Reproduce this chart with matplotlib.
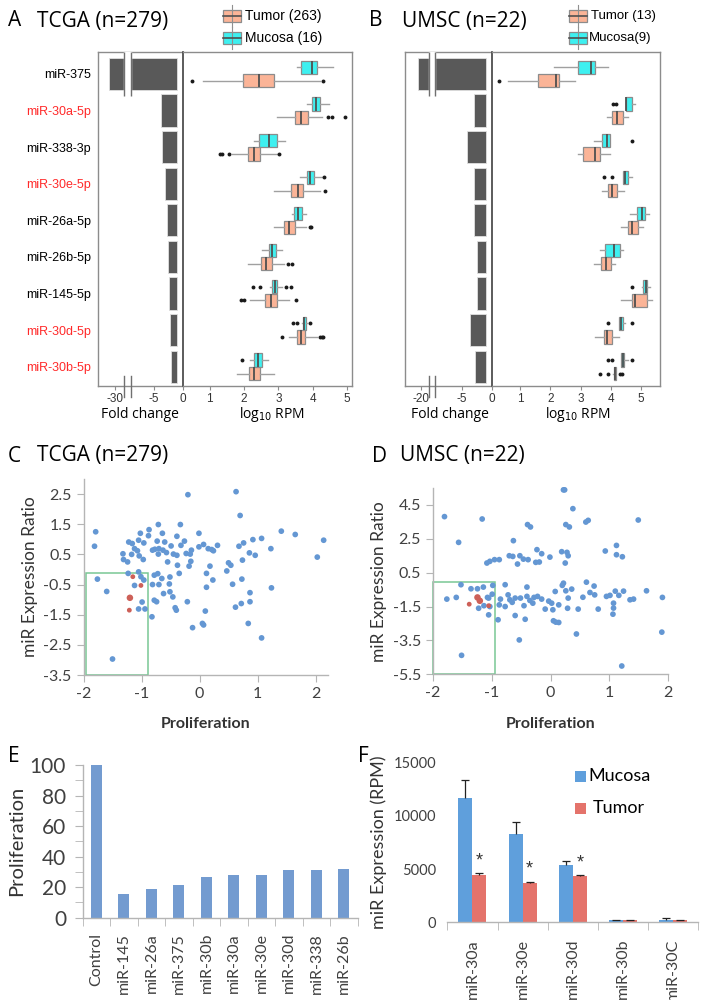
import numpy as np
import matplotlib
matplotlib.use("Agg")
import matplotlib.pyplot as plt
import matplotlib.transforms as mtransforms
from matplotlib.patches import Rectangle
from matplotlib.ticker import FixedLocator, NullLocator, MultipleLocator

plt.rcParams['font.family'] = ['Liberation Sans', 'DejaVu Sans']
plt.rcParams['axes.unicode_minus'] = False

# ---------------- data: panels A / B ----------------
mirs = ['miR-375', 'miR-30a-5p', 'miR-338-3p', 'miR-30e-5p', 'miR-26a-5p',
        'miR-26b-5p', 'miR-145-5p', 'miR-30d-5p', 'miR-30b-5p']
mir_label_colors = ['black', '#ff2a2a', 'black', '#ff2a2a', 'black',
                    'black', 'black', '#ff2a2a', '#ff2a2a']
fold_tcga = [-31.0, -3.8, -3.7, -3.1, -2.8, -2.6, -2.4, -2.25, -2.1]
fold_umsc = [-20.5, -2.95, -4.1, -2.95, -3.0, -2.4, -2.4, -3.7, -2.8]

# (whisker low, q1, median, q3, whisker high, outliers) in log10 RPM
tcga_mucosa = [
    (3.54, 3.66, 3.97, 4.12, 4.58, []),
    (3.84, 3.99, 4.09, 4.20, 4.48, []),
    (2.29, 2.45, 2.74, 2.95, 3.19, []),
    (3.63, 3.83, 3.92, 4.03, 4.26, [4.34]),
    (3.41, 3.46, 3.56, 3.69, 3.80, []),
    (2.53, 2.73, 2.83, 2.92, 3.10, []),
    (2.76, 2.83, 2.90, 2.97, 3.10, [2.27, 2.47, 3.22, 3.36]),
    (3.68, 3.71, 3.75, 3.80, 3.84, [3.42, 3.53, 3.92]),
    (2.18, 2.30, 2.42, 2.53, 2.69, [1.94]),
]
tcga_tumor = [
    (0.80, 1.98, 2.45, 2.88, 4.20, [0.48, 4.29]),
    (2.95, 3.47, 3.66, 3.87, 4.28, [4.45, 4.55, 4.94]),
    (1.65, 2.12, 2.29, 2.46, 2.98, [1.31, 1.35, 1.58, 3.02]),
    (2.88, 3.37, 3.56, 3.73, 4.21, [4.36]),
    (2.88, 3.17, 3.32, 3.47, 3.80, [3.92, 3.96]),
    (2.12, 2.50, 2.64, 2.81, 3.17, [3.27, 3.39]),
    (2.18, 2.60, 2.79, 2.95, 3.32, [1.92, 2.00, 3.51]),
    (3.30, 3.53, 3.66, 3.78, 4.13, [3.10, 4.21, 4.26, 4.30]),
    (1.79, 2.15, 2.29, 2.47, 2.88, []),
]
umsc_mucosa = [
    (2.12, 2.90, 3.34, 3.48, 3.89, []),
    (4.49, 4.49, 4.51, 4.71, 4.80, [4.08, 4.16]),
    (3.45, 3.70, 3.86, 3.97, 3.97, [4.71]),
    (4.39, 4.39, 4.45, 4.57, 4.71, [3.78, 4.03]),
    (4.63, 4.87, 5.02, 5.13, 5.27, []),
    (3.64, 3.81, 4.11, 4.30, 4.41, []),
    (5.04, 5.07, 5.15, 5.20, 5.29, [4.69]),
    (4.27, 4.27, 4.33, 4.39, 4.45, [3.91, 4.69]),
    (4.32, 4.32, 4.39, 4.44, 4.55, [3.91, 4.03, 4.71]),
]
umsc_tumor = [
    (0.59, 1.58, 2.19, 2.29, 2.82, [0.31]),
    (3.86, 4.03, 4.19, 4.41, 4.55, []),
    (2.92, 3.09, 3.48, 3.64, 3.97, []),
    (3.70, 3.89, 4.03, 4.21, 4.44, []),
    (4.32, 4.57, 4.69, 4.88, 5.07, []),
    (3.45, 3.67, 3.83, 3.99, 4.14, []),
    (4.32, 4.69, 4.80, 5.20, 5.37, []),
    (3.48, 3.77, 3.88, 4.03, 4.27, []),
    (4.08, 4.10, 4.13, 4.16, 4.17, [3.64, 3.91, 4.30, 4.35]),
]

# ---------------- data: panel C (TCGA scatter) ----------------
c_x = [-1.79, -1.81, -1.76, -1.60, -0.20, 0.63, 0.70, -0.71, -0.33, -0.87,
       -1.02, -0.64, -0.88, -0.01, -0.39, -1.22, -1.16, -1.05, -0.96, -0.73,
       -0.60, -0.26, -0.32, -0.49, -0.01, 0.07, 0.15, 0.21, 0.31, 0.24,
       -1.12, -1.07, -1.32, -1.17, -0.81, -0.77, -0.70, -0.63, -0.71, -0.57,
       -0.45, -0.39, -0.23, -0.14, -0.16, -1.04, -1.31, -1.24, -0.97, -0.55,
       -0.15, -0.18, -0.35, 0.18, 0.12, 0.47, 0.50, 0.54, 0.74, 0.73,
       0.57, 0.23, 0.12, 0.76, 0.68, 0.92, 1.07, 0.86, 0.96, 1.23,
       1.41, 1.65, 2.14, 2.03, 1.24, 0.87, 0.87, 0.72, 0.62, 0.84,
       -0.21, 0.10, 0.05, -0.12, -0.78, -0.72, -0.65, -0.51, -0.81, -0.70,
       -0.52, -0.62, -0.46, -0.78, -0.74, -0.42, -0.40, -0.99, -1.05, -0.94,
       -1.23, -1.05, -1.01, -0.96, -1.12, -0.82, -0.38, -1.50, 1.07, -0.51,
       0.07]
c_y = [1.25, 0.77, -0.32, -0.73, 2.48, 2.58, 1.79, 1.49, 1.49, 1.32,
       1.20, 1.20, 1.12, 1.20, 1.10, 0.91, 0.86, 0.97, 0.88, 0.94,
       0.91, 0.94, 0.80, 0.78, 0.75, 0.83, 0.69, 0.66, 0.80, 0.62,
       0.69, 0.62, 0.52, 0.50, 0.64, 0.67, 0.69, 0.64, 0.51, 0.56,
       0.51, 0.47, 0.53, 0.64, 0.51, 0.45, 0.33, 0.25, 0.33, 0.25,
       0.27, 0.11, -0.13, 0.11, -0.13, -0.05, 0.22, 0.14, 0.31, -0.32,
       -0.49, -0.35, -0.59, 0.88, 0.77, 0.99, 1.03, 0.55, 0.47, 0.69,
       1.27, 1.16, 0.97, 0.41, -0.61, -0.77, -1.07, -1.13, -1.25, -1.79,
       -1.07, -1.38, -1.79, -1.93, -0.19, -0.14, -0.30, -0.25, -0.50, -0.50,
       -0.48, -0.80, -0.91, -1.02, -1.07, -1.27, -1.35, -1.08, -1.31, -1.31,
       -0.13, -0.08, -0.24, -0.35, -0.53, -1.57, 0.14, -2.97, -2.27, -0.74,
       -1.84]
c_red_x = [-1.15, -1.01, -1.20, -1.21]
c_red_y = [-0.24, -0.53, -0.94, -1.35]

# ---------------- data: panel D (UMSC scatter) ----------------
d_x = [-1.80, -1.16, -1.56, 0.22, 0.24, 0.38, 0.26, 0.32, -0.39, -0.34,
       0.60, 0.64, 1.49, -0.63, 1.12, 0.93, 1.12, 1.22, -0.23, -0.15,
       0.19, 0.28, 0.30, -0.01, -0.70, -0.64, -0.52, -0.46, -0.38, -0.56,
       -1.08, -1.03, -0.95, -0.87, -0.25, -0.19, 0.25, -1.52, -1.35, -1.24,
       -1.14, -0.98, -0.77, -0.40, 0.22, 0.20, 0.36, 0.61, 0.74, 0.08,
       0.26, 0.67, 0.75, 1.10, 1.24, 1.63, 1.90, -1.76, -1.60, -1.07,
       -0.99, -0.85, -0.72, -0.69, -0.60, -0.51, -0.40, -0.35, -0.28, -0.22,
       -0.15, -0.03, 0.02, 0.14, 0.30, 0.47, 0.81, 0.95, 1.01, 1.16,
       1.07, 1.07, 1.06, 1.35, 1.41, -1.05, -0.89, -0.60, -0.43, -0.09,
       0.04, 0.05, 0.09, 0.14, -0.77, -0.87, -1.03, -1.22, -1.13, -1.51,
       1.21, 0.44, 1.89, -0.53, 0.29, -0.45, -1.05, -0.65, -0.30, 0.55]
d_y = [3.81, 3.67, 2.29, 5.39, 5.39, 4.28, 3.34, 3.20, 3.34, 3.20,
       3.49, 3.59, 3.61, 2.39, 2.11, 1.78, 1.56, 1.44, 1.86, 1.62,
       1.74, 1.70, 1.50, 1.42, 1.50, 1.46, 1.50, 1.30, 1.27, 1.01,
       1.07, 1.17, 1.27, 1.27, 1.11, 1.13, 1.07, -0.21, -0.45, -0.45,
       -0.35, -0.25, -0.21, -0.35, -0.12, -0.25, -0.47, -0.06, -0.29, -0.61,
       -0.57, -0.67, -0.81, -0.59, -0.59, -0.57, -0.96, -1.06, -0.96, -0.96,
       -0.77, -1.06, -0.81, -1.10, -1.00, -1.00, -0.90, -1.14, -0.96, -0.90,
       -1.06, -1.18, -1.30, -1.40, -1.00, -1.65, -1.65, -0.90, -0.84, -0.84,
       -1.30, -1.59, -1.95, -1.10, -1.06, -1.99, -2.28, -2.03, -2.25, -1.65,
       -1.69, -2.34, -2.42, -2.44, -1.50, -1.40, -1.50, -1.60, -1.45, -4.38,
       -5.01, -3.12, -3.01, -3.47, -1.60, -1.45, -1.00, -1.25, -1.30, -0.95]
d_red_x = [-1.24, -1.20, -1.38, -1.05]
d_red_y = [-0.96, -1.16, -1.36, -1.45]

# ---------------- data: panel E ----------------
e_labels = ['Control', 'miR-145', 'miR-26a', 'miR-375', 'miR-30b', 'miR-30a',
            'miR-30e', 'miR-30d', 'miR-338', 'miR-26b']
e_values = [100, 15.5, 18.6, 21.4, 26.6, 27.7, 27.7, 31.4, 31.0, 31.9]

# ---------------- data: panel F ----------------
f_labels = ['miR-30a', 'miR-30e', 'miR-30d', 'miR-30b', 'miR-30C']
f_mucosa = [11650, 8300, 5390, 220, 250]
f_mucosa_err = [1720, 1160, 400, 40, 120]
f_tumor = [4450, 3670, 4350, 200, 210]
f_tumor_err = [160, 150, 70, 30, 40]
f_signif = [True, True, True, False, False]

# ---------------- figure ----------------
W, H = 707, 1000
fig = plt.figure(figsize=(W / 100, H / 100), dpi=100)
pix = mtransforms.Affine2D().scale(1 / W, -1 / H).translate(0, 1) + fig.transFigure


def frect(x0, y0, x1, y1):
    return [x0 / W, 1 - y1 / H, (x1 - x0) / W, (y1 - y0) / H]


def ptext(x, y, s, **kw):
    kw.setdefault('va', 'center')
    fig.text(x, y, s, transform=pix, **kw)


def make_break_scale(a, b, tb):
    shift = tb - b

    def fwd(v):
        v = np.asarray(v, float)
        mid = a + (v - a) * (tb - a) / (b - a)
        return np.where(v >= a, v, np.where(v >= b, mid, v + shift))

    def inv(t):
        t = np.asarray(t, float)
        mid = a + (t - a) * (b - a) / (tb - a)
        return np.where(t >= a, t, np.where(t >= tb, mid, t - shift))
    return fwd, inv


TUMOR_C = '#fbb497'
MUCOSA_C = '#3ef0f0'
FRAME_C = '#8c8c8c'


def box_panel(x0, xdiv, x1, y0, y1, fold, brk, fc_xlim, fc_ticks, rpm_xlim,
              mucosa, tumor, show_labels):
    a, b, tb = brk
    fwd, inv = make_break_scale(a, b, tb)
    axf = fig.add_axes(frect(x0, y0, xdiv, y1))
    axr = fig.add_axes(frect(xdiv, y0, x1, y1))
    n = len(mirs)
    rows = np.arange(n)
    ylim = (n - 1 + 0.53, -0.6)

    axf.set_xscale('function', functions=(fwd, inv))
    axf.barh(rows, np.array(fold) + 1, left=-1, height=0.88, color='#595959',
             edgecolor='#e0e0e0', linewidth=0.6, zorder=2)
    axf.fill_betweenx([-0.6, 0.59], b, a, color='white', zorder=3)
    axf.vlines([b, a], -0.6, 0.59, color='#707070', lw=1, zorder=4)
    tr = mtransforms.blended_transform_factory(axf.transData, axf.transAxes)
    for xv in (b, a):
        axf.plot([xv, xv], [0.03, -0.033], transform=tr, color='#707070',
                 lw=1, clip_on=False, zorder=5)
    axf.set_xlim(*fc_xlim)
    axf.set_ylim(*ylim)
    axf.xaxis.set_major_locator(FixedLocator(fc_ticks))
    axf.xaxis.set_minor_locator(NullLocator())
    axf.set_xticklabels([str(t) for t in fc_ticks])
    axf.set_yticks(rows)
    if show_labels:
        axf.set_yticklabels(mirs, fontsize=9)
        for lbl, col in zip(axf.get_yticklabels(), mir_label_colors):
            lbl.set_color(col)
    else:
        axf.set_yticklabels([])
    axf.tick_params(axis='y', length=0, pad=5)
    axf.spines['right'].set_visible(False)

    def stats(lst):
        return [dict(whislo=s[0], q1=s[1], med=s[2], q3=s[3], whishi=s[4],
                     fliers=s[5]) for s in lst]
    for data, off, col in ((mucosa, -0.18, MUCOSA_C), (tumor, 0.19, TUMOR_C)):
        axr.bxp(stats(data), positions=rows + off, widths=0.36,
                orientation='horizontal', patch_artist=True, showcaps=False,
                boxprops=dict(facecolor=col, edgecolor='#8c8c8c', linewidth=0.9),
                medianprops=dict(color='#505050', linewidth=1.3),
                whiskerprops=dict(color='#a0a0a0', linewidth=1),
                flierprops=dict(marker='o', markerfacecolor='#1a1a1a',
                                markeredgecolor='none', markersize=2.8))
    axr.set_ylim(*ylim)
    axr.set_yticks([])
    axr.set_xlim(*rpm_xlim)
    axr.set_xticks([1, 2, 3, 4, 5])
    axr.set_xticklabels(['1', '2', '3', '4', '5'])
    for ax in (axf, axr):
        for sp in ax.spines.values():
            sp.set_color(FRAME_C)
            sp.set_linewidth(1)
        ax.tick_params(axis='x', direction='out', length=3, color=FRAME_C,
                       labelsize=8.5, labelcolor='#333333', pad=2)
    axr.spines['left'].set_color('#404040')
    axr.spines['left'].set_linewidth(1.2)


# Panel A
box_panel(98, 183, 352, 52, 386, fold_tcga, (-9.0, -28.5, -10.22),
          (-32.94, 0), [-30, -5, 0], (0.23, 5.14), tcga_mucosa, tcga_tumor, True)
# Panel B
box_panel(405, 491.7, 660, 52, 386, fold_umsc, (-9.45, -18.62, -10.45),
          (-22.62, 0), [-20, -5, 0], (0.066, 5.62), umsc_mucosa, umsc_tumor, False)

TITLE_F = ['Open Sans', 'DejaVu Sans']
ptext(8, 21, 'A', fontsize=15, family=TITLE_F)
ptext(37, 21, 'TCGA (n=279)', fontsize=15, family=TITLE_F)
ptext(369, 21, 'B', fontsize=15, family=TITLE_F)
ptext(402, 21, 'UMSC (n=22)', fontsize=15, family=TITLE_F)

for cx in (140, 450):
    ptext(cx, 415, 'Fold change', fontsize=10, family=TITLE_F, ha='center')
for cx in (272, 578):
    ptext(cx, 415, r'log$_{10}$ RPM', fontsize=10, family=TITLE_F, ha='center')


def legend_icon(x0, x1, yc, col):
    xc = (x0 + x1) / 2
    fig.add_artist(plt.Line2D([xc, xc], [yc - 11, yc + 11], color='#909090',
                              lw=0.8, transform=pix))
    fig.add_artist(Rectangle((x0, yc - 6), x1 - x0, 12, facecolor=col,
                             edgecolor='#8c8c8c', lw=0.9, transform=pix))
    fig.add_artist(plt.Line2D([x0, x1], [yc, yc], color='#505050', lw=1.2,
                              transform=pix))


legend_icon(223, 241, 16, TUMOR_C)
legend_icon(223, 241, 38, MUCOSA_C)
ptext(245, 16, 'Tumor (263)', fontsize=10)
ptext(245, 38, 'Mucosa (16)', fontsize=10)
legend_icon(569, 587, 16, TUMOR_C)
legend_icon(569, 587, 38, MUCOSA_C)
ptext(591, 16, 'Tumor (13)', fontsize=9.5)
ptext(589, 38, 'Mucosa(9)', fontsize=9.5)

# ---------------- C / D scatter ----------------
EX_F = ['Lato', 'DejaVu Sans']
SC_BLUE = '#6497d3'
SC_RED = '#cd6058'
AX_C = '#b5b5b5'


def style_excel(ax, labelsize):
    for s in ('top', 'right'):
        ax.spines[s].set_visible(False)
    for s in ('left', 'bottom'):
        ax.spines[s].set_color(AX_C)
        ax.spines[s].set_linewidth(1)
    ax.tick_params(direction='out', color=AX_C, labelsize=labelsize,
                   labelcolor='#404040')
    for lbl in ax.get_xticklabels() + ax.get_yticklabels():
        lbl.set_family(EX_F)


def scatter_panel(px_rect, xs, ys, rxs, rys, rsizes, xlim, ylim, yticks, box):
    ax = fig.add_axes(frect(*px_rect))
    ax.scatter(xs, ys, s=17, color=SC_BLUE, edgecolors='none', zorder=3,
               clip_on=False)
    ax.scatter(rxs, rys, s=rsizes, color=SC_RED, edgecolors='none', zorder=4)
    ax.add_patch(Rectangle((box[0], ylim[0]), box[1] - box[0], box[2] - ylim[0],
                           fill=False, ec='#79c895', lw=1.1, zorder=2,
                           clip_on=False))
    ax.set_xlim(*xlim)
    ax.set_ylim(*ylim)
    ax.set_xticks([-2, -1, 0, 1, 2])
    ax.set_yticks(yticks)
    ax.set_yticklabels([f'{t:g}' for t in yticks])
    ax.tick_params(length=5)
    style_excel(ax, 11.5)
    ax.set_xlabel('Proliferation', fontsize=11.5, fontweight='bold',
                  family=EX_F, color='#333333', labelpad=12)
    ax.set_ylabel('miR Expression Ratio', fontsize=12.5, family=EX_F,
                  color='#333333', labelpad=4)
    return ax


scatter_panel((83.5, 479, 328.3, 675), c_x, c_y, c_red_x, c_red_y,
              [12, 12, 22, 12], (-2, 2.22), (-3.5, 3.0),
              [-3.5, -2.5, -1.5, -0.5, 0.5, 1.5, 2.5], (-1.96, -0.88, -0.13))
scatter_panel((432.7, 488, 668.3, 674.3), d_x, d_y, d_red_x, d_red_y,
              [22, 22, 12, 12], (-2, 2), (-5.5, 5.5),
              [-5.5, -3.5, -1.5, 0.5, 2.5, 4.5], (-2.0, -0.95, -0.06))

ptext(8, 456, 'C', fontsize=15, family=TITLE_F)
ptext(37, 456, 'TCGA (n=279)', fontsize=15, family=TITLE_F)
ptext(372, 456, 'D', fontsize=15, family=TITLE_F)
ptext(400, 456, 'UMSC (n=22)', fontsize=15, family=TITLE_F)

# ---------------- E ----------------
axE = fig.add_axes(frect(82.7, 765, 357.7, 917.7))
xe = np.arange(len(e_labels))
axE.bar(xe, e_values, width=0.4, color='#739bd0', zorder=2)
axE.set_xlim(-0.5, len(e_labels) - 0.5)
axE.set_ylim(0, 100)
axE.yaxis.set_major_locator(MultipleLocator(20))
axE.yaxis.set_minor_locator(MultipleLocator(10))
axE.set_xticks(xe)
axE.set_xticklabels(e_labels, rotation=90)
axE.xaxis.set_minor_locator(FixedLocator(np.arange(-0.5, len(e_labels), 1)))
style_excel(axE, 15)
axE.tick_params(axis='x', which='major', length=0, pad=11, labelsize=11.5)
axE.tick_params(axis='x', which='minor', length=6, color=AX_C)
axE.tick_params(axis='y', which='both', length=6, color=AX_C, pad=6)
axE.set_ylabel('Proliferation', fontsize=14.5, family=EX_F, color='#333333',
               labelpad=3)
ptext(8, 757, 'E', fontsize=15, family=TITLE_F)

# ---------------- F ----------------
axF = fig.add_axes(frect(447.3, 762.7, 698.3, 922.3))
xf = np.arange(len(f_labels))
bw = 0.28
m = np.array(f_mucosa, float)
me = np.array(f_mucosa_err, float)
t = np.array(f_tumor, float)
te = np.array(f_tumor_err, float)
axF.bar(xf - bw / 2, m, bw, color='#5f9fdc', zorder=2)
axF.bar(xf + bw / 2, t, bw, color='#e4736b', zorder=2)
for xx, v, e in ((xf - bw / 2, m, me), (xf + bw / 2, t, te)):
    axF.vlines(xx, v, v + e, color='#222222', lw=0.9, zorder=3)
    axF.plot(xx, v + e, ls='none', marker='_', ms=6, mew=0.9, color='#222222',
             zorder=3)
for i, sig in enumerate(f_signif):
    if sig:
        axF.text(xf[i] + bw / 2, t[i] + te[i] + 1150, '*', ha='center',
                 va='center', fontsize=13, color='#333333')
axF.set_xlim(-0.5, len(f_labels) - 0.5)
axF.set_ylim(0, 15000)
axF.set_yticks([0, 5000, 10000, 15000])
axF.set_xticks(xf)
axF.set_xticklabels(f_labels, rotation=90)
axF.xaxis.set_minor_locator(FixedLocator(np.arange(-0.5, len(f_labels), 1)))
style_excel(axF, 10.5)
axF.tick_params(axis='x', which='major', length=0, pad=12, labelsize=11.5)
axF.tick_params(axis='x', which='minor', length=6, color=AX_C)
axF.tick_params(axis='y', length=0, pad=8)
axF.spines['left'].set_visible(False)
axF.set_ylabel('miR Expression (RPM)', fontsize=13, family=EX_F,
               color='#333333', labelpad=5)
ptext(358, 757, 'F', fontsize=15, family=TITLE_F)

fig.add_artist(Rectangle((575, 771), 11, 11, facecolor='#5f9fdc',
                         edgecolor='none', transform=pix))
fig.add_artist(Rectangle((575, 803), 11, 11, facecolor='#e4736b',
                         edgecolor='none', transform=pix))
ptext(588, 776, 'Mucosa', fontsize=13, family=EX_F)
ptext(593, 808, 'Tumor', fontsize=13, family=EX_F)

fig.savefig('out.png', dpi=100)
